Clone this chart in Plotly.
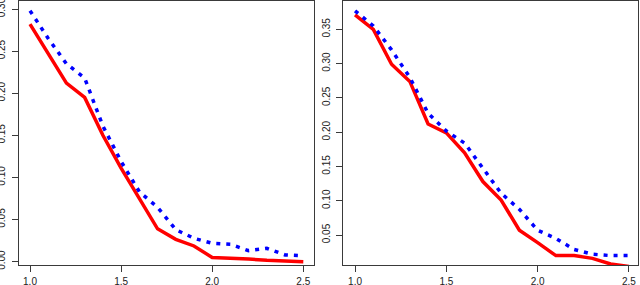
import plotly.graph_objects as go

x = [1.0, 1.1, 1.2, 1.3, 1.4, 1.5, 1.6, 1.7, 1.8, 1.9, 2.0, 2.1, 2.2, 2.3, 2.4, 2.5]

left_red = [0.282, 0.247, 0.212, 0.195, 0.150, 0.111, 0.075, 0.039, 0.0265, 0.0186,
            0.005, 0.0045, 0.003, 0.0015, 0.0005, 0.0]
left_blue = [0.298, 0.265, 0.235, 0.218, 0.161, 0.119, 0.083, 0.0645, 0.038, 0.0277,
             0.0218, 0.0206, 0.013, 0.0158, 0.008, 0.007]

right_red = [0.371, 0.350, 0.299, 0.274, 0.212, 0.199, 0.170, 0.128, 0.101, 0.057,
             0.039, 0.020, 0.020, 0.016, 0.0077, 0.004]
right_blue = [0.377, 0.355, 0.320, 0.280, 0.2275, 0.2017, 0.184, 0.147, 0.111, 0.0875,
              0.057, 0.045, 0.029, 0.022, 0.020, 0.020]

x_ticks = [1.0, 1.5, 2.0, 2.5]
left_y_ticks = [0.00, 0.05, 0.10, 0.15, 0.20, 0.25, 0.30]
right_y_ticks = [0.05, 0.10, 0.15, 0.20, 0.25, 0.30, 0.35]

W, H = 640, 285
fig = go.Figure()

red_style = dict(color="#FF0000", width=3.5)
blue_style = dict(color="#0000FF", width=3.5, dash="4px,6px")

fig.add_trace(go.Scatter(x=x, y=left_red, mode="lines", line=red_style, xaxis="x", yaxis="y"))
fig.add_trace(go.Scatter(x=x, y=left_blue, mode="lines", line=blue_style, xaxis="x", yaxis="y"))
fig.add_trace(go.Scatter(x=x, y=right_red, mode="lines", line=red_style, xaxis="x2", yaxis="y2"))
fig.add_trace(go.Scatter(x=x, y=right_blue, mode="lines", line=blue_style, xaxis="x2", yaxis="y2"))

box_bottom = (H - 265) / H
box_top = (H - 1) / H

axis_common = dict(showgrid=False, zeroline=False, showline=True, mirror=True,
                   linecolor="#3a3a3a", linewidth=1, ticks="outside", ticklen=6,
                   tickcolor="#3a3a3a", tickwidth=1, automargin=False,
                   ticklabeloverflow="allow",
                   tickfont=dict(family="Liberation Sans, Arial, sans-serif", size=10, color="#222"))

fig.update_layout(
    width=W, height=H, margin=dict(l=0, r=0, t=0, b=0, autoexpand=False),
    paper_bgcolor="white", plot_bgcolor="white", showlegend=False,
    xaxis=dict(domain=[19 / W, 314 / W], range=[0.9396, 2.5587],
               tickvals=x_ticks, ticktext=[f"{v:.1f}" for v in x_ticks], anchor="y",
               ticklabelstandoff=1, **axis_common),
    yaxis=dict(domain=[box_bottom, box_top], range=[-0.004, 0.3095],
               tickvals=left_y_ticks, ticktext=[f"{v:.2f}" for v in left_y_ticks],
               tickangle=-90, anchor="x", ticklabelstandoff=3, **axis_common),
    xaxis2=dict(domain=[343 / W, 637.5 / W], range=[0.934, 2.547],
                tickvals=x_ticks, ticktext=[f"{v:.1f}" for v in x_ticks], anchor="y2",
                ticklabelstandoff=1, **axis_common),
    yaxis2=dict(domain=[box_bottom, box_top], range=[0.0063, 0.3913],
                tickvals=right_y_ticks, ticktext=[f"{v:.2f}" for v in right_y_ticks],
                tickangle=-90, anchor="x2", ticklabelstandoff=2, **axis_common),
)

fig.write_html("out.html", config={"displayModeBar": False},
               post_script="document.body.style.margin='0';")
